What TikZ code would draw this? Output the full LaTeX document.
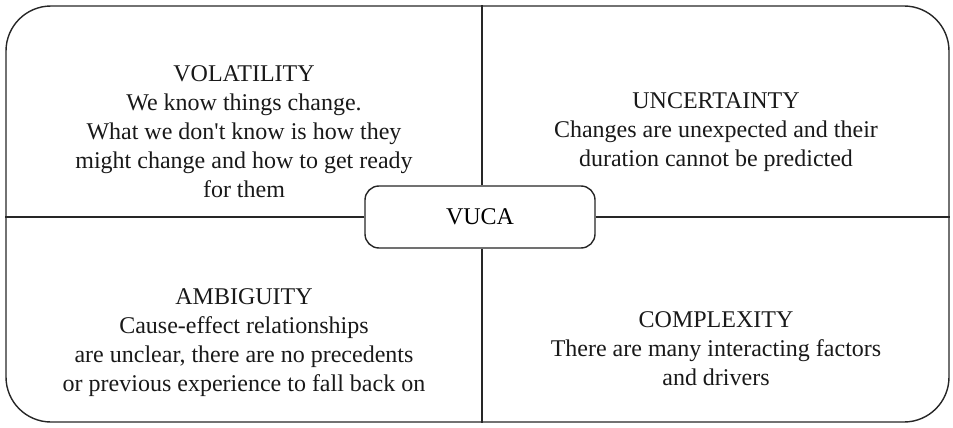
\documentclass[tikz,border=0pt]{standalone}
\usepackage{fontspec}
\setmainfont{Liberation Serif}
\usetikzlibrary{positioning}

\begin{document}
\begin{tikzpicture}[x=1pt, y=-1pt]
    \tikzset{frame/.style={draw=black!85, line width=1.4pt, rounded corners=45pt, minimum width=943pt, minimum height=416pt, inner sep=0pt},
             hub/.style={draw=black!85, line width=1.4pt, rounded corners=14pt, minimum width=230pt, minimum height=62pt, fill=white, font=\fontsize{24}{29}\selectfont},
             quadtext/.style={align=center, text=black!90, font=\fontsize{24}{29}\selectfont}};
%%
\useasboundingbox (0,0) rectangle (953,428);
\node (outer) at (477.5,214) [frame] {};
\node (vuca) at (480,217) [hub] {VUCA};
  \node (vol) at (244,132) [quadtext] {VOLATILITY\\We know things change.\\What we don\textquotesingle t know is how they\\might change and how to get ready\\for them};
  \node (unc) at (716,132) [quadtext] {UNCERTAINTY\\Changes are unexpected and their\\duration cannot be predicted};
  \node (amb) at (244,343) [quadtext] {AMBIGUITY\\Cause-effect relationships\\are unclear, there are no precedents\\or previous experience to fall back on};
  \node (cmp) at (716,349) [quadtext] {COMPLEXITY\\There are many interacting factors\\and drivers};

  % dividing lines
  \draw [black!85, line width=1.4pt] (vuca.west) -- (vuca.west -| outer.west);
  \draw [black!85, line width=1.4pt] (vuca.east) -- (vuca.east -| outer.east);
  \draw [black!85, line width=1.4pt] ([xshift=2pt]vuca.north) -- ([xshift=2pt]vuca.north |- outer.north);
  \draw [black!85, line width=1.4pt] ([xshift=2pt]vuca.south) -- ([xshift=2pt]vuca.south |- outer.south);
\end{tikzpicture}
\end{document}
